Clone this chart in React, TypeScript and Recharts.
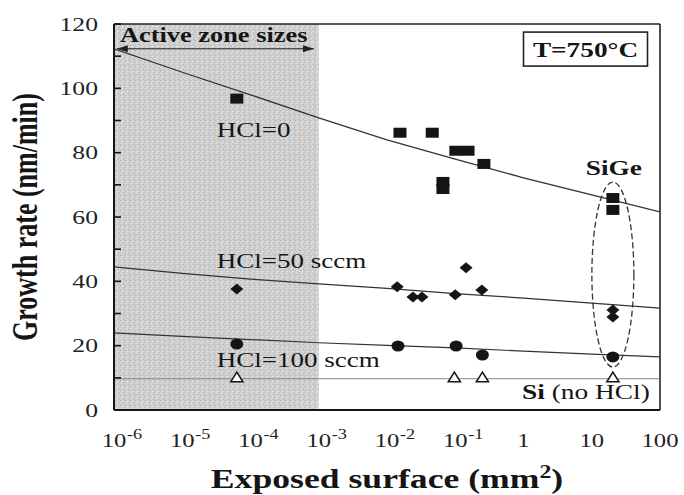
import React from 'react';
import {
  ComposedChart,
  XAxis,
  YAxis,
  Line,
  Scatter,
  ReferenceArea,
  ReferenceLine,
  ReferenceDot,
} from 'recharts';

// ---------- data ----------
const decades = [1e-6, 1e-5, 1e-4, 1e-3, 1e-2, 1e-1, 1, 10, 100];
const xTickBase = ['10', '10', '10', '10', '10', '10', '1', '10', '100'];
const xTickExp = ['-6', '-5', '-4', '-3', '-2', '-1', '', '', ''];
const yTicks = [0, 20, 40, 60, 80, 100, 120];
const yMinorTicks = [0, 10, 20, 30, 40, 50, 60, 70, 80, 90, 100, 110, 120];

// fitted lines (values read at each decade)
const fitHCl0 = [112.3, 105, 98, 90.8, 84, 78, 72.2, 66.9, 61.6];
const fitHCl50 = [44.5, 42.5, 40.7, 39.2, 37.8, 36.2, 34.8, 33.2, 31.7];
const fitHCl100 = [24, 22.9, 21.9, 20.9, 20.1, 19.3, 18.3, 17.4, 16.5];
const siLineX = [1e-6, 100];
const siLineY = [9.7, 9.7];

// measured points
const sqX = [6.3e-5, 0.0155, 0.046, 0.102, 0.154, 0.263, 0.066, 0.066, 20.4, 20.4];
const sqY = [96.8, 86.2, 86.2, 80.6, 80.6, 76.5, 70.9, 68.7, 65.9, 62.2];
const diaX = [6.3e-5, 0.0141, 0.024, 0.0325, 0.1, 0.144, 0.245, 20.4, 20.4];
const diaY = [37.6, 38.3, 35.1, 35.1, 35.8, 44.2, 37.3, 31.1, 28.9];
const cirX = [6.3e-5, 0.0145, 0.103, 0.25, 20.4];
const cirY = [20.5, 19.9, 19.9, 17.1, 16.5];
const triX = [6.3e-5, 0.097, 0.25, 20.4];
const triY = [10.2, 10.2, 10.2, 10.2];

const zip = (xs: number[], ys: number[]) => xs.map((x, i) => ({ x, y: ys[i] }));
const fit0Data = zip(decades, fitHCl0);
const fit50Data = zip(decades, fitHCl50);
const fit100Data = zip(decades, fitHCl100);
const siData = zip(siLineX, siLineY);
const sqData = zip(sqX, sqY);
const diaData = zip(diaX, diaY);
const cirData = zip(cirX, cirY);
const triData = zip(triX, triY);

// ---------- styling ----------
const SERIF = "'Liberation Serif', 'Times New Roman', serif";
const INK = '#151515';

const ST = ({ x, y, sx = 1.32, size = 20, weight = 'normal', anchor = 'start', children, fill = INK }: any) => (
  <g transform={`translate(${x},${y}) scale(${sx},1)`}>
    <text
      x={0}
      y={0}
      textAnchor={anchor}
      fill={fill}
      style={{ fontFamily: SERIF, fontSize: size, fontWeight: weight }}
    >
      {children}
    </text>
  </g>
);

const SquareShape = (p: any) => <rect x={p.cx - 6.5} y={p.cy - 5} width={13} height={10} fill={INK} />;
const DiamondShape = (p: any) => (
  <polygon
    points={`${p.cx},${p.cy - 5.5} ${p.cx + 6.5},${p.cy} ${p.cx},${p.cy + 5.5} ${p.cx - 6.5},${p.cy}`}
    fill={INK}
  />
);
const CircleShape = (p: any) => <ellipse cx={p.cx} cy={p.cy} rx={6.5} ry={5.5} fill={INK} />;
const TriangleShape = (p: any) => (
  <polygon
    points={`${p.cx},${p.cy - 5} ${p.cx + 6},${p.cy + 4.5} ${p.cx - 6},${p.cy + 4.5}`}
    fill="#fff"
    stroke={INK}
    strokeWidth={1.6}
  />
);

const EmptyTick = () => <g />;

const YTick = (p: any) => (
  <ST x={p.x} y={p.y + 6.5} size={19} sx={1.35} anchor="end" fill="#222">
    {p.payload.value}
  </ST>
);

const XTick = (p: any) => {
  const i = decades.findIndex((d) => Math.abs(Math.log10(d) - Math.log10(p.payload.value)) < 1e-6);
  if (i < 0) return null;
  const base = xTickBase[i];
  const exp = xTickExp[i];
  return (
    <g>
      <ST x={p.x} y={p.y + 37} size={19} sx={1.3} anchor="middle" fill="#222">
        {base}
      </ST>
      {exp ? (
        <ST x={p.x + 13} y={p.y + 29} size={14} sx={1.3} anchor="start" fill="#222">
          {exp}
        </ST>
      ) : null}
    </g>
  );
};

const YTitle = (props: any) => {
  const vb = props.viewBox || { x: 0, y: 24, width: 114, height: 386 };
  const cx = vb.x + 37;
  const cy = vb.y + vb.height / 2;
  return (
    <g transform={`translate(${cx},${cy}) scale(1.4,1) rotate(-90)`}>
      <text textAnchor="middle" fill={INK} style={{ fontFamily: SERIF, fontSize: 26, fontWeight: 'bold' }}>
        Growth rate (nm/min)
      </text>
    </g>
  );
};

const XTitle = (props: any) => {
  const vb = props.viewBox || { x: 114, y: 410, width: 546, height: 30 };
  const cx = vb.x + vb.width / 2;
  const cy = vb.y + 78;
  return (
    <g transform={`translate(${cx},${cy}) scale(1.32,1)`}>
      <text textAnchor="middle" fill={INK} style={{ fontFamily: SERIF, fontSize: 27, fontWeight: 'bold' }}>
        Exposed surface (mm
        <tspan dy={-10} style={{ fontSize: 18 }}>
          2
        </tspan>
        <tspan dy={10}>)</tspan>
      </text>
    </g>
  );
};

const textShape = (label: string, opts: any) => (p: any) => (
  <ST x={p.cx} y={p.cy} {...opts}>
    {label}
  </ST>
);

const SiLabel = (p: any) => (
  <g transform={`translate(${p.cx},${p.cy}) scale(1.37,1)`}>
    <text fill={INK} style={{ fontFamily: SERIF, fontSize: 20 }}>
      <tspan style={{ fontWeight: 'bold' }}>Si</tspan> (no HCl)
    </text>
  </g>
);

const TempBox = (p: any) => (
  <g>
    <rect x={p.cx - 62} y={p.cy - 17} width={124} height={34} fill="#fff" stroke="#222" strokeWidth={1.6} />
    <ST x={p.cx} y={p.cy + 7.5} size={22} sx={1.24} weight="bold" anchor="middle">
      T=750°C
    </ST>
  </g>
);

const SiGeEllipse = (p: any) => (
  <ellipse cx={p.cx} cy={p.cy} rx={21} ry={92.5} fill="none" stroke="#333" strokeWidth={1.3} strokeDasharray="6 3" />
);

const ArrowLeft = (p: any) => (
  <polygon points={`${p.cx},${p.cy} ${p.cx + 11},${p.cy - 3.5} ${p.cx + 11},${p.cy + 3.5}`} fill="#222" />
);
const ArrowRight = (p: any) => (
  <polygon points={`${p.cx},${p.cy} ${p.cx - 11},${p.cy - 3.5} ${p.cx - 11},${p.cy + 3.5}`} fill="#222" />
);

export default function App() {
  return (
    <div style={{ position: 'absolute', left: 0, top: 0, width: 684, height: 495, background: '#fff' }}>
      <svg width={0} height={0} style={{ position: 'absolute' }}>
        <defs>
          <pattern id="stipple" width="5" height="5" patternUnits="userSpaceOnUse">
            <rect width="5" height="5" fill="#d0d0d0" />
            <rect x="0" y="0" width="1" height="1" fill="#b0b0b0" />
            <rect x="2" y="1" width="1" height="1" fill="#e8e8e8" />
            <rect x="4" y="2" width="1" height="1" fill="#b8b8b8" />
            <rect x="1" y="3" width="1" height="1" fill="#e2e2e2" />
            <rect x="3" y="4" width="1" height="1" fill="#b4b4b4" />
          </pattern>
        </defs>
      </svg>
      <ComposedChart width={684} height={495} margin={{ top: 24, right: 24, bottom: 55, left: 0 }}>
        <XAxis
          dataKey="x"
          type="number"
          scale="log"
          domain={[1e-6, 100]}
          allowDataOverflow
          ticks={decades}
          interval={0}
          tickLine={false}
          tickSize={0}
          tickMargin={0}
          tick={<XTick />}
          height={30}
          axisLine={{ stroke: INK, strokeWidth: 2 }}
          label={{ content: XTitle }}
        />
        <XAxis
          xAxisId="t"
          type="number"
          scale="log"
          domain={[1e-6, 100]}
          allowDataOverflow
          ticks={decades}
          interval={0}
          mirror
          tick={<EmptyTick />}
          axisLine={false}
          tickSize={7}
          tickLine={{ stroke: INK, strokeWidth: 1.6 }}
          height={1}
        />
        <YAxis
          dataKey="y"
          type="number"
          domain={[0, 120]}
          allowDataOverflow
          ticks={yTicks}
          interval={0}
          width={114}
          tickLine={false}
          tickSize={0}
          tickMargin={16}
          tick={<YTick />}
          axisLine={{ stroke: INK, strokeWidth: 2 }}
          label={{ content: YTitle }}
        />
        <YAxis
          yAxisId="t"
          type="number"
          domain={[0, 120]}
          allowDataOverflow
          ticks={yMinorTicks}
          interval={0}
          mirror
          tick={<EmptyTick />}
          axisLine={false}
          tickSize={7}
          tickLine={{ stroke: INK, strokeWidth: 1.6 }}
          width={1}
        />

        <ReferenceArea x1={1e-6} x2={1e-3} y1={0} y2={120} fill="url(#stipple)" fillOpacity={1} stroke="none" />
        <ReferenceLine y={120} stroke="#222" strokeWidth={1.6} />
        <ReferenceLine x={100} stroke="#222" strokeWidth={1.6} />

        <Line data={siData} dataKey="y" type="linear" dot={false} stroke="#888" strokeWidth={1.1} isAnimationActive={false} />
        <Line data={fit0Data} dataKey="y" type="linear" dot={false} stroke="#333" strokeWidth={1.3} isAnimationActive={false} />
        <Line data={fit50Data} dataKey="y" type="linear" dot={false} stroke="#333" strokeWidth={1.2} isAnimationActive={false} />
        <Line data={fit100Data} dataKey="y" type="linear" dot={false} stroke="#333" strokeWidth={1.2} isAnimationActive={false} />

        <ReferenceLine
          segment={[
            { x: 1.1e-6, y: 112.3 },
            { x: 8.5e-4, y: 112.3 },
          ]}
          stroke="#222"
          strokeWidth={1.2}
          ifOverflow="visible"
        />
        <ReferenceDot x={1.1e-6} y={112.3} r={0} shape={ArrowLeft} ifOverflow="visible" />
        <ReferenceDot x={8.5e-4} y={112.3} r={0} shape={ArrowRight} ifOverflow="visible" />
        <ReferenceDot x={1.22e-6} y={114.4} r={0} shape={textShape('Active zone sizes', { size: 20, sx: 1.32, weight: 'bold' })} ifOverflow="visible" />

        <ReferenceDot x={3.2e-5} y={84.9} r={0} shape={textShape('HCl=0', { size: 20, sx: 1.35 })} ifOverflow="visible" />
        <ReferenceDot x={3.2e-5} y={44.1} r={0} shape={textShape('HCl=50 sccm', { size: 20, sx: 1.35 })} ifOverflow="visible" />
        <ReferenceDot x={3.2e-5} y={13.4} r={0} shape={textShape('HCl=100 sccm', { size: 20, sx: 1.35 })} ifOverflow="visible" />
        <ReferenceDot x={0.95} y={3.4} r={0} shape={SiLabel} ifOverflow="visible" />
        <ReferenceDot x={21} y={73.1} r={0} shape={textShape('SiGe', { size: 21, sx: 1.3, weight: 'bold', anchor: 'middle' })} ifOverflow="visible" />
        <ReferenceDot x={8.1} y={112.2} r={0} shape={TempBox} ifOverflow="visible" />
        <ReferenceDot x={20.4} y={42.1} r={0} shape={SiGeEllipse} ifOverflow="visible" />

        <Scatter data={sqData} shape={SquareShape} isAnimationActive={false} />
        <Scatter data={diaData} shape={DiamondShape} isAnimationActive={false} />
        <Scatter data={cirData} shape={CircleShape} isAnimationActive={false} />
        <Scatter data={triData} shape={TriangleShape} isAnimationActive={false} />
      </ComposedChart>
    </div>
  );
}
